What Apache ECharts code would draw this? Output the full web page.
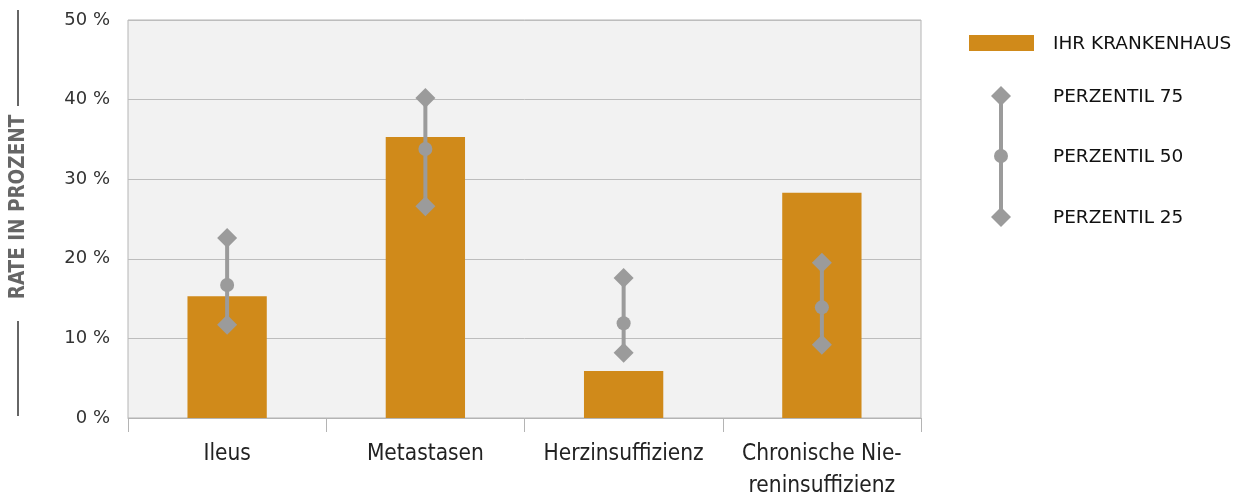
<!DOCTYPE html>
<html><head><meta charset="utf-8">
<script src="https://cdn.jsdelivr.net/npm/echarts@6/dist/echarts.min.js"></script>
<style>html,body{margin:0;padding:0;background:#fff}#c{width:1239px;height:499px}</style>
</head><body><div id="c"></div>
<script>
const categories = ['Ileus', 'Metastasen', 'Herzinsuffizienz', 'Chronische Nie-\nreninsuffizienz'];
const hospital = [15.3, 35.3, 5.9, 28.3];
const p75 = [22.6, 40.2, 17.6, 19.5];
const p50 = [16.7, 33.8, 11.9, 13.9];
const p25 = [11.7, 26.6, 8.2, 9.2];
const yTicks = [0, 10, 20, 30, 40, 50];

const ORANGE = '#D08A1A', GREY = '#9b9b9b';
const chart = echarts.init(document.getElementById('c'), null, {renderer: 'canvas'});

function diamond(x, y, r) {
  return {type: 'polygon', shape: {points: [[x, y - r], [x + r, y], [x, y + r], [x - r, y]]}, style: {fill: GREY}};
}

chart.setOption({
  animation: false,
  textStyle: {fontFamily: 'DejaVu Sans'},
  grid: {left: 128, right: 318, top: 20, bottom: 81, show: true, backgroundColor: '#f2f2f2', borderColor: '#b4b4b4', borderWidth: 1, containLabel: false, outerBoundsMode: 'none'},
  xAxis: {
    type: 'category', data: categories,
    axisLine: {show: true, lineStyle: {color: '#b4b4b4'}},
    axisTick: {show: true, length: 14, interval: 0, lineStyle: {color: '#b4b4b4'}},
    axisLabel: {interval: 0, hideOverlap: false, fontFamily: 'DejaVu Sans Condensed', fontSize: 22.5, color: '#222', margin: 20, lineHeight: 32}
  },
  yAxis: {
    type: 'value', min: 0, max: 50, interval: 10,
    axisLine: {show: false}, axisTick: {show: false},
    axisLabel: {formatter: v => yTicks.includes(v) ? v + ' %' : '', fontSize: 18, color: '#333', margin: 18},
    splitLine: {lineStyle: {color: '#bdbdbd'}}
  },
  series: [
    {type: 'bar', data: hospital, barWidth: '40%', itemStyle: {color: ORANGE}, z: 2},
    {
      type: 'custom', z: 5,
      data: categories.map((c, i) => [i, p25[i], p50[i], p75[i]]),
      renderItem: function (params, api) {
        const i = api.value(0);
        const a = api.coord([i, api.value(1)]);
        const m = api.coord([i, api.value(2)]);
        const b = api.coord([i, api.value(3)]);
        return {type: 'group', children: [
          {type: 'line', shape: {x1: a[0], y1: a[1], x2: b[0], y2: b[1]}, style: {stroke: GREY, lineWidth: 4}},
          diamond(b[0], b[1], 10),
          diamond(a[0], a[1], 10),
          {type: 'circle', shape: {cx: m[0], cy: m[1], r: 7}, style: {fill: GREY}}
        ]};
      }
    }
  ],
  graphic: [
    {type: 'text', x: 19, y: 207, rotation: Math.PI / 2, style: {text: 'RATE IN PROZENT', fontSize: 20.5, fontWeight: 'bold', fill: '#666', fontFamily: 'DejaVu Sans Condensed', align: 'center', verticalAlign: 'middle'}},
    {type: 'line', shape: {x1: 18, y1: 10, x2: 18, y2: 106}, style: {stroke: '#666', lineWidth: 2}},
    {type: 'line', shape: {x1: 18, y1: 321, x2: 18, y2: 416}, style: {stroke: '#666', lineWidth: 2}},
    {type: 'rect', shape: {x: 969, y: 35, width: 65, height: 16}, style: {fill: ORANGE}},
    {type: 'text', x: 1053, y: 44, style: {text: 'IHR KRANKENHAUS', fontSize: 18.5, fill: '#111', fontFamily: 'DejaVu Sans', verticalAlign: 'middle'}},
    {type: 'line', shape: {x1: 1001, y1: 96, x2: 1001, y2: 217}, style: {stroke: GREY, lineWidth: 4}},
    {type: 'polygon', shape: {points: [[1001, 86], [1011, 96], [1001, 106], [991, 96]]}, style: {fill: GREY}},
    {type: 'circle', shape: {cx: 1001, cy: 156, r: 7}, style: {fill: GREY}},
    {type: 'polygon', shape: {points: [[1001, 207], [1011, 217], [1001, 227], [991, 217]]}, style: {fill: GREY}},
    {type: 'text', x: 1053, y: 97, style: {text: 'PERZENTIL 75', fontSize: 18.5, fill: '#111', fontFamily: 'DejaVu Sans', verticalAlign: 'middle'}},
    {type: 'text', x: 1053, y: 157, style: {text: 'PERZENTIL 50', fontSize: 18.5, fill: '#111', fontFamily: 'DejaVu Sans', verticalAlign: 'middle'}},
    {type: 'text', x: 1053, y: 218, style: {text: 'PERZENTIL 25', fontSize: 18.5, fill: '#111', fontFamily: 'DejaVu Sans', verticalAlign: 'middle'}}
  ]
});
</script>
</body></html>
